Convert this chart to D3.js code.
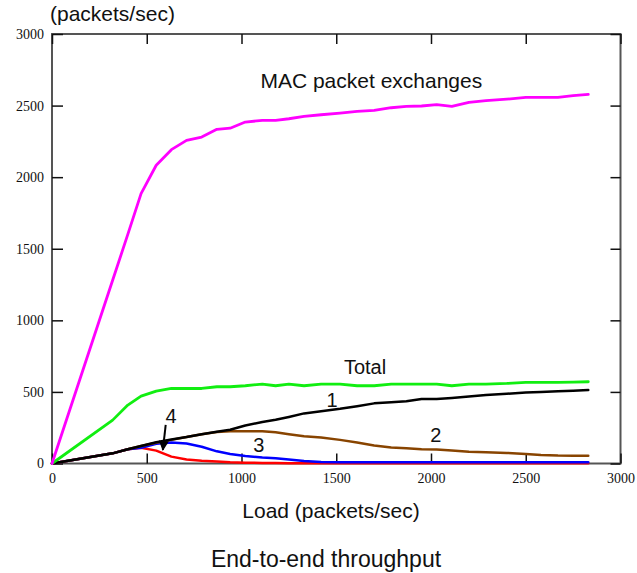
<!DOCTYPE html>
<html>
<head>
<meta charset="utf-8">
<script src="https://cdn.jsdelivr.net/npm/d3@7"></script>
<style>
  html, body { margin: 0; padding: 0; background: #fff; }
  svg { display: block; }
</style>
</head>
<body>
<svg id="chart" width="637" height="573"></svg>
<script>
// Offered load (packets/sec) at which each series was measured
const load = [0, 320, 400, 470, 550, 630, 710, 790, 870, 940, 1020, 1110, 1180, 1250, 1330, 1420,
              1520, 1610, 1700, 1790, 1870, 1950, 2030, 2110, 2200, 2290, 2400, 2500, 2580, 2670, 2750, 2830];

// Throughput series (packets/sec)
const macExchanges = [0, 1280, 1600, 1885, 2083, 2192, 2257, 2280, 2334, 2342, 2385, 2397, 2397, 2408, 2424, 2436,
                      2448, 2459, 2466, 2485, 2494, 2497, 2506, 2494, 2522, 2534, 2545, 2557, 2557, 2557, 2569, 2578];
const total = [0, 303, 408, 471, 506, 524, 524, 524, 536, 536, 543, 555, 543, 555, 543, 555,
               555, 543, 543, 555, 555, 555, 555, 543, 555, 555, 559, 566, 566, 566, 568, 571];
const flow1 = [0, 71, 99, 122, 148, 168, 185, 205, 222, 236, 265, 290, 305, 325, 350, 365,
               382, 400, 420, 428, 435, 450, 450, 458, 468, 478, 487, 496, 500, 505, 509, 513];
const flow2 = [0, 71, 99, 122, 145, 165, 185, 205, 220, 226, 226, 225, 218, 205, 190, 182,
               165, 146, 125, 112, 106, 99, 98, 90, 82, 78, 74, 66, 60, 56, 55, 55];
const flow3 = [0, 71, 99, 110, 138, 147, 140, 117, 85, 66, 52, 42, 37, 28, 18, 11,
               9, 8, 8, 8, 8, 8, 8, 8, 8, 8, 8, 8, 8, 8, 8, 8];
const flow4 = [0, 71, 99, 110, 90, 48, 28, 19, 14, 9, 6, 4, 3, 2, 2, 2,
               2, 2, 2, 2, 2, 2, 2, 2, 2, 2, 2, 2, 2, 2, 2, 2];

const ticks = [0, 500, 1000, 1500, 2000, 2500, 3000];

// Drawn bottom to top
const series = [
  { values: flow4, color: "#ff0000", width: 2.5 },
  { values: flow3, color: "#0000ff", width: 2.5 },
  { values: flow2, color: "#884400", width: 2.5 },
  { values: flow1, color: "#000000", width: 2.5 },
  { values: total, color: "#11ee11", width: 2.8 },
  { values: macExchanges, color: "#ff00ff", width: 2.8 }
];

const svg = d3.select("#chart");
const x = d3.scaleLinear().domain([0, 3000]).range([52, 620.5]);
const y = d3.scaleLinear().domain([0, 3000]).range([463.5, 34]);

const serif = "'Liberation Serif', 'Times New Roman', serif";
const sans = "'Liberation Sans', Arial, sans-serif";

// Frame
svg.append("rect")
  .attr("x", x(0)).attr("y", y(3000))
  .attr("width", x(3000) - x(0)).attr("height", y(0) - y(3000))
  .attr("fill", "none").attr("stroke", "#555").attr("stroke-width", 2);

function styleAxis(g) {
  g.select(".domain").remove();
  g.selectAll(".tick line").attr("stroke", "#111").attr("stroke-width", 1.5);
  g.selectAll(".tick text").attr("font-family", serif).attr("font-size", 14).attr("fill", "#111");
}

// Left and bottom axes with inward ticks and labels
svg.append("g").attr("transform", `translate(${x(0)},0)`)
  .call(d3.axisLeft(y).tickValues(ticks).tickFormat(d3.format("d")).tickSizeInner(-11).tickPadding(8))
  .call(styleAxis);
svg.append("g").attr("transform", `translate(0,${y(0)})`)
  .call(d3.axisBottom(x).tickValues(ticks).tickFormat(d3.format("d")).tickSizeInner(-10).tickPadding(10))
  .call(styleAxis);
// Top and right mirrored ticks without labels
svg.append("g").attr("transform", `translate(0,${y(3000)})`)
  .call(d3.axisTop(x).tickValues(ticks).tickFormat("").tickSizeInner(-10))
  .call(styleAxis);
svg.append("g").attr("transform", `translate(${x(3000)},0)`)
  .call(d3.axisRight(y).tickValues(ticks).tickFormat("").tickSizeInner(-10))
  .call(styleAxis);

// Series lines
const line = d3.line().x((d, i) => x(load[i])).y(d => y(d));
series.forEach(s => {
  svg.append("path")
    .datum(s.values)
    .attr("d", line)
    .attr("fill", "none")
    .attr("stroke", s.color)
    .attr("stroke-width", s.width)
    .attr("stroke-linejoin", "round")
    .attr("stroke-linecap", "round");
});

// Series annotations
const notes = [
  { text: "MAC packet exchanges", lx: 1100, ly: 2622, anchor: "start", size: 21 },
  { text: "Total", lx: 1652, ly: 623, anchor: "middle", size: 20 },
  { text: "1", lx: 1478, ly: 397, anchor: "middle", size: 20 },
  { text: "2", lx: 2026, ly: 152, anchor: "middle", size: 20 },
  { text: "3", lx: 1092, ly: 82, anchor: "middle", size: 20 },
  { text: "4", lx: 628, ly: 285, anchor: "middle", size: 20 }
];
svg.selectAll("text.note").data(notes).enter().append("text")
  .attr("class", "note")
  .attr("x", d => x(d.lx)).attr("y", d => y(d.ly))
  .attr("text-anchor", d => d.anchor)
  .attr("font-family", sans).attr("font-size", d => d.size).attr("fill", "#111")
  .text(d => d.text);

// Arrow pointing from label 4 to where flow 4 splits away
const arrowFrom = [600, 270], arrowTo = [585, 95];
svg.append("defs").append("marker")
  .attr("id", "arrowhead").attr("viewBox", "0 0 10 10")
  .attr("refX", 9).attr("refY", 5)
  .attr("markerWidth", 5).attr("markerHeight", 5)
  .attr("markerUnits", "strokeWidth")
  .attr("orient", "auto")
  .append("path").attr("d", "M0,0 L10,5 L0,10 Z").attr("fill", "#000");
svg.append("line")
  .attr("x1", x(arrowFrom[0])).attr("y1", y(arrowFrom[1]))
  .attr("x2", x(arrowTo[0])).attr("y2", y(arrowTo[1]))
  .attr("stroke", "#000").attr("stroke-width", 2)
  .attr("marker-end", "url(#arrowhead)");

// Axis titles and caption
svg.append("text").attr("x", 50).attr("y", 21)
  .attr("font-family", sans).attr("font-size", 21).attr("fill", "#111")
  .text("(packets/sec)");
svg.append("text").attr("x", 331).attr("y", 517.5).attr("text-anchor", "middle")
  .attr("font-family", sans).attr("font-size", 21).attr("fill", "#111")
  .text("Load (packets/sec)");
svg.append("text").attr("x", 326).attr("y", 567).attr("text-anchor", "middle")
  .attr("font-family", sans).attr("font-size", 23).attr("fill", "#111")
  .text("End-to-end throughput");
</script>
</body>
</html>
